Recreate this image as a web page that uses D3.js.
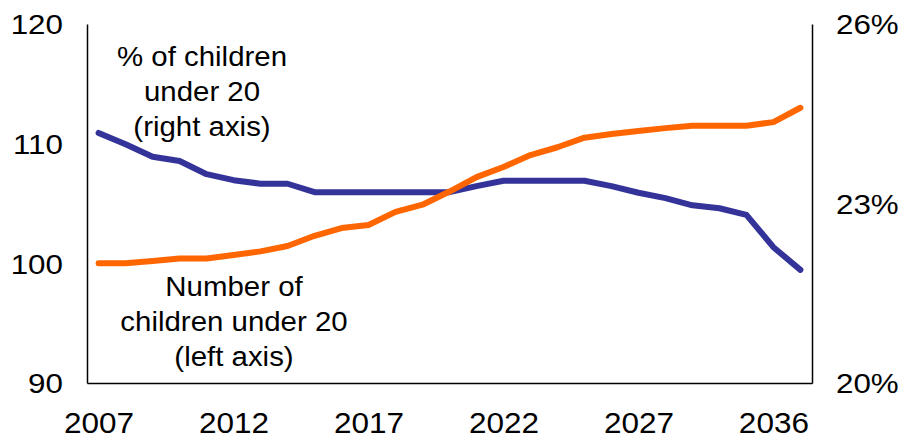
<!DOCTYPE html>
<html>
<head>
<meta charset="utf-8">
<script src="https://d3js.org/d3.v7.min.js"></script>
<style>
    body { margin: 0; background: #fff; }
    svg text { font-family: "Liberation Sans", Arial, sans-serif; fill: #000; }
</style>
</head>
<body>
<svg width="918" height="440"></svg>
<script>
    // x categories (years); only some are labelled on the axis
    let years = ['2007','2008','2009','2010','2011','2012','2013','2014','2015','2016',
                 '2017','2018','2019','2020','2021','2022','2023','2024','2025','2026',
                 '2027','2028','2030','2032','2034','2036','2037']
    let xTickLabels = ['2007','2012','2017','2022','2027','2036']

    // number of children under 20, index (left axis)
    let childrenCount = [100.0, 100.0, 100.2, 100.4, 100.4, 100.7, 101.0, 101.45, 102.3, 102.95,
                         103.2, 104.3, 104.9, 106.0, 107.2, 108.05, 109.05, 109.7, 110.5, 110.8,
                         111.05, 111.3, 111.5, 111.5, 111.5, 111.8, 113.0]
    // % of children under 20 (right axis)
    let childrenShare = [24.18, 23.99, 23.78, 23.71, 23.49, 23.39, 23.33, 23.33, 23.19, 23.19,
                         23.19, 23.19, 23.19, 23.19, 23.29, 23.38, 23.38, 23.38, 23.38, 23.29,
                         23.18, 23.09, 22.97, 22.92, 22.81, 22.27, 21.89]

    let leftTicks = [90, 100, 110, 120]
    let rightTicks = [20, 23, 26]

    let svg = d3.select('svg')
    let plot = {left: 87, right: 812, top: 24, bottom: 383}
    let stretch = 1.12   // the text in the original is a bit wider than it is tall

    let x = d3.scalePoint().domain(years).range([plot.left, plot.right]).padding(0.43)
    let yLeft = d3.scaleLinear().domain([90, 120]).range([plot.bottom, plot.top])
    let yRight = d3.scaleLinear().domain([20, 26]).range([plot.bottom, plot.top])

    // axes without tick marks
    let leftAxis = svg.append('g')
        .attr('transform', 'translate(' + plot.left + ',0)')
        .call(d3.axisLeft(yLeft).tickValues(leftTicks).tickSize(0))
    let rightAxis = svg.append('g')
        .attr('transform', 'translate(' + plot.right + ',0)')
        .call(d3.axisRight(yRight).tickValues(rightTicks).tickSize(0)
            .tickFormat(d => d + '%'))
    let bottomAxis = svg.append('g')
        .attr('transform', 'translate(0,' + plot.bottom + ')')
        .call(d3.axisBottom(x).tickValues(xTickLabels).tickSize(0))

    svg.selectAll('.domain').attr('stroke', '#000').attr('stroke-width', 1.5)

    leftAxis.selectAll('.tick text')
        .style('font-size', '28px')
        .attr('x', -24 / stretch)
        .attr('dy', '0.35em')
        .attr('transform', 'scale(' + stretch + ',1)')
    rightAxis.selectAll('.tick text')
        .style('font-size', '28px')
        .attr('x', 24 / stretch)
        .attr('dy', '0.35em')
        .attr('transform', 'scale(' + stretch + ',1)')
    bottomAxis.selectAll('.tick text')
        .style('font-size', '30px')
        .attr('y', 50)
        .attr('dy', 0)
        .attr('transform', 'scale(1.05,1)')

    let line = (scale, values) => d3.line()
        .x((d, i) => x(years[i]))
        .y(d => scale(d))(values)

    svg.append('path')
        .attr('d', line(yRight, childrenShare))
        .attr('fill', 'none')
        .attr('stroke', '#333399')
        .attr('stroke-width', 6)
        .attr('stroke-linecap', 'round')
        .attr('stroke-linejoin', 'round')

    svg.append('path')
        .attr('d', line(yLeft, childrenCount))
        .attr('fill', 'none')
        .attr('stroke', '#FF6600')
        .attr('stroke-width', 6)
        .attr('stroke-linecap', 'round')
        .attr('stroke-linejoin', 'round')

    // series labels
    let labels = [
        {lines: ['% of children', 'under 20', '(right axis)'], cx: 202, y0: 66},
        {lines: ['Number of', 'children under 20', '(left axis)'], cx: 234, y0: 296}
    ]
    labels.forEach(lab => {
        svg.append('g').selectAll('text')
            .data(lab.lines)
            .enter()
            .append('text')
            .attr('transform', (d, i) => 'translate(' + lab.cx + ',' + (lab.y0 + i * 35) + ') scale(1.07,1)')
            .attr('text-anchor', 'middle')
            .style('font-size', '27.5px')
            .text(d => d)
    })
</script>
</body>
</html>
